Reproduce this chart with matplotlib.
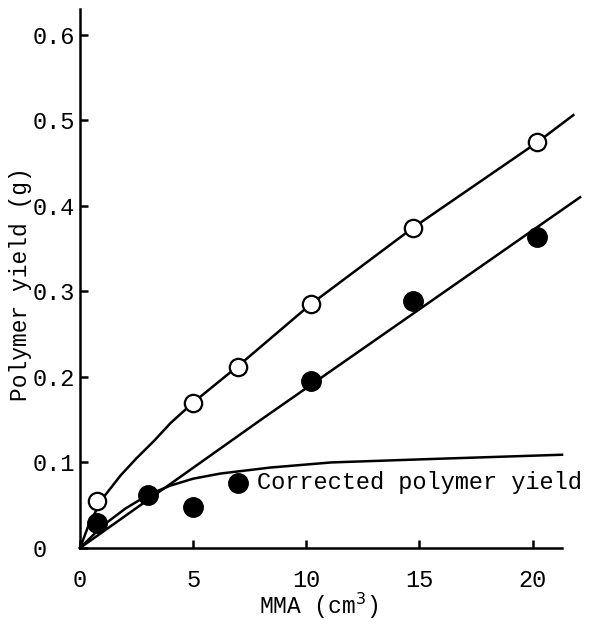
import matplotlib.pyplot as plt

plt.rcParams['font.family'] = ['Liberation Mono', 'DejaVu Sans Mono']

# measured points
mma_open = [0.75, 5.0, 7.0, 10.2, 14.7, 20.2]
yield_open = [0.055, 0.170, 0.212, 0.285, 0.374, 0.474]

mma_filled = [0.75, 3.0, 5.0, 7.0, 10.2, 14.7, 20.2]
yield_filled = [0.029, 0.062, 0.048, 0.076, 0.195, 0.289, 0.364]

# drawn curves
upper_x = [0, 0.4, 1.0, 1.8, 2.5, 3.3, 4.0, 5.0, 7.0, 10.2, 14.7, 20.2, 21.8]
upper_y = [0, 0.028, 0.058, 0.085, 0.105, 0.126, 0.146, 0.170, 0.213, 0.285,
           0.374, 0.474, 0.506]

lower_x = [0, 8.0, 22.1]
lower_y = [0, 0.150, 0.410]

corr_x = [0, 1.0, 2.0, 3.0, 4.0, 5.0, 6.2, 8.4, 11.1, 15.5, 21.3]
corr_y = [0, 0.026, 0.046, 0.062, 0.073, 0.081, 0.087, 0.094, 0.100, 0.104, 0.109]

fig = plt.figure(figsize=(5.9, 6.24), dpi=100)
ax = fig.add_axes([0.1356, 0.1218, 0.817, 0.8638])

lw = 1.8
ax.plot(upper_x, upper_y, color='black', lw=lw, clip_on=False, zorder=2)
ax.plot(lower_x, lower_y, color='black', lw=lw, clip_on=False, zorder=2)
ax.plot(corr_x, corr_y, color='black', lw=lw, clip_on=False, zorder=2)

ax.plot(mma_open, yield_open, 'o', ms=12.5, mfc='white', mec='black', mew=1.6,
        clip_on=False, zorder=3)
ax.plot(mma_filled, yield_filled, 'o', ms=14, mfc='black', mec='black',
        clip_on=False, zorder=3)

ax.text(7.8, 0.077, 'Corrected polymer yield', fontsize=17, va='center', ha='left')

ax.set_xlim(0, 21.3)
ax.set_ylim(0, 0.63)
ax.set_xticks([0, 5, 10, 15, 20])
ax.set_xticklabels(['0', '5', '10', '15', '20'])
ax.set_yticks([0, 0.1, 0.2, 0.3, 0.4, 0.5, 0.6])
ax.set_yticklabels(['0', '0.1', '0.2', '0.3', '0.4', '0.5', '0.6'])

for side in ['top', 'right']:
    ax.spines[side].set_visible(False)
for side in ['left', 'bottom']:
    ax.spines[side].set_linewidth(1.8)

ax.tick_params(axis='both', direction='in', length=6, width=1.8, labelsize=17)
ax.tick_params(axis='x', pad=15)
ax.tick_params(axis='y', pad=34)
for lab in ax.get_yticklabels():
    lab.set_horizontalalignment('left')

ax.set_ylabel('Polymer yield (g)', fontsize=16.5)
ax.yaxis.set_label_coords(-0.10, 0.49)
ax.set_xlabel('MMA (cm$^3$)', fontsize=16.5)
ax.xaxis.set_label_coords(0.494, -0.08)

fig.savefig('out.png', dpi=100)
